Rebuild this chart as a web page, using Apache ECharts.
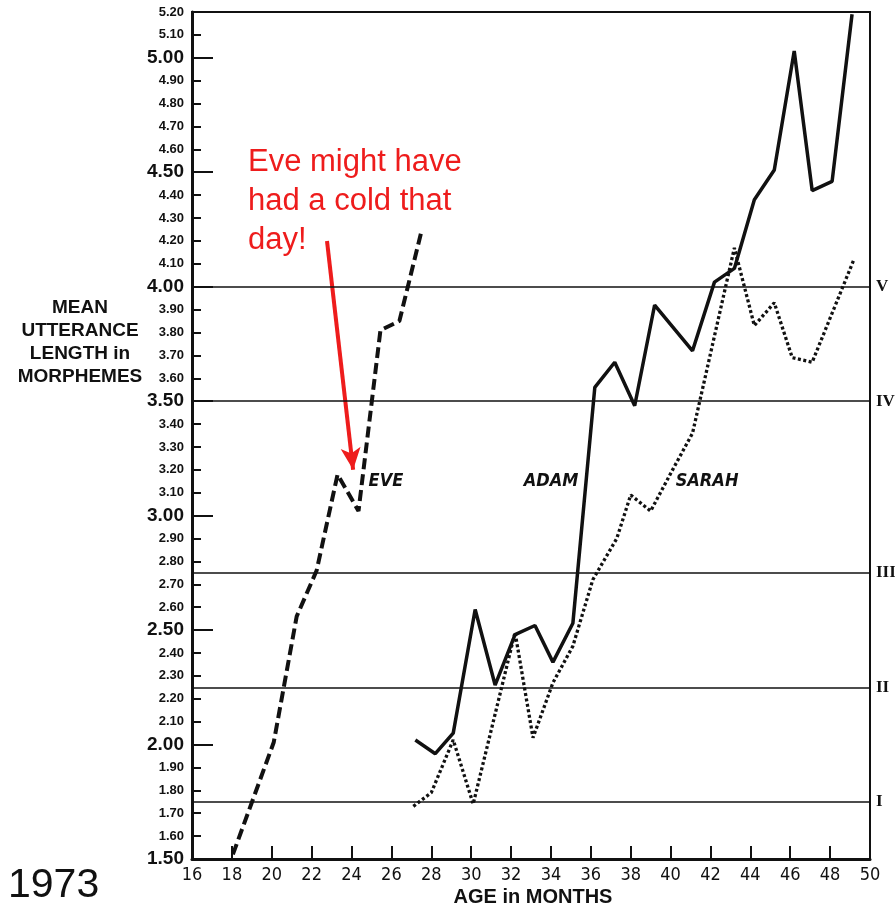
<!DOCTYPE html>
<html>
<head>
<meta charset="utf-8">
<script src="https://cdn.jsdelivr.net/npm/echarts@6/dist/echarts.min.js"></script>
<style>
  html, body { margin: 0; padding: 0; background: #ffffff; }
  #chart { width: 895px; height: 910px; }
</style>
</head>
<body>
<div id="chart"></div>
<script>
// Mean length of utterance (morphemes) by age (months)
const eveData = [
  [18.05, 1.52], [20.1, 2.01], [21.25, 2.56], [22.25, 2.76], [23.3, 3.18],
  [24.35, 3.02], [25.45, 3.81], [26.4, 3.85], [27.5, 4.24]
];
const adamData = [
  [27.2, 2.02], [28.2, 1.96], [29.1, 2.05], [30.2, 2.59], [31.2, 2.26],
  [32.2, 2.48], [33.2, 2.52], [34.1, 2.36], [35.1, 2.53], [36.2, 3.56],
  [37.2, 3.67], [38.2, 3.48], [39.2, 3.92], [41.1, 3.72], [42.2, 4.02],
  [43.2, 4.08], [44.2, 4.38], [45.2, 4.51], [46.2, 5.03], [47.1, 4.42],
  [48.1, 4.46], [49.1, 5.19]
];
const sarahData = [
  [27.1, 1.73], [28.0, 1.79], [29.1, 2.02], [30.1, 1.74], [32.2, 2.49],
  [33.1, 2.03], [34.1, 2.27], [35.1, 2.43], [36.1, 2.72], [37.3, 2.90],
  [38.0, 3.09], [39.0, 3.02], [40.1, 3.20], [41.1, 3.36], [43.2, 4.17],
  [44.2, 3.83], [45.2, 3.93], [46.1, 3.69], [47.1, 3.67], [49.2, 4.12]
];
// Stage boundaries (Brown's stages I–V)
const stageValues = [1.75, 2.25, 2.75, 3.50, 4.00];
const stageNames = ['I', 'II', 'III', 'IV', 'V'];
const childNames = ['EVE', 'ADAM', 'SARAH'];
const xTicks = { min: 16, max: 50, step: 2 };
const yTicks = { min: 1.5, max: 5.2, step: 0.1, majorStep: 0.5 };

const condensed = "'Liberation Sans Narrow', 'DejaVu Sans Condensed', 'Liberation Sans', Arial, sans-serif";
const sans = "'Liberation Sans', Arial, sans-serif";

const chart = echarts.init(document.getElementById('chart'), null, { renderer: 'canvas' });

const nameLabel = (text) => ({
  show: true, position: 'right', distance: 0, formatter: text,
  fontFamily: condensed, fontSize: 18, fontStyle: 'italic', fontWeight: 'bold', color: '#111'
});

const option = {
  backgroundColor: '#ffffff',
  animation: false,
  grid: {
    left: 192, right: 25, top: 12, bottom: 51,
    show: true, borderColor: '#111', borderWidth: 2, backgroundColor: 'transparent'
  },
  xAxis: {
    type: 'value', min: xTicks.min, max: xTicks.max, interval: xTicks.step,
    axisLine: { show: true, lineStyle: { color: '#111', width: 3 } },
    axisTick: { show: true, inside: true, length: 13, lineStyle: { color: '#111', width: 2 } },
    axisLabel: { color: '#111', fontFamily: condensed, fontSize: 18, margin: 7 },
    splitLine: { show: false }
  },
  yAxis: [
    {
      type: 'value', min: yTicks.min, max: yTicks.max, interval: yTicks.step,
      axisLine: { show: true, lineStyle: { color: '#111', width: 3 } },
      axisTick: { show: true, inside: true, length: 9, lineStyle: { color: '#111', width: 2 } },
      axisLabel: {
        margin: 8,
        formatter: (v) => {
          const major = Math.round(v * 100) % 50 === 0;
          return (major ? '{b|' : '{s|') + v.toFixed(2) + '}';
        },
        rich: {
          b: { fontFamily: sans, fontWeight: 'bold', fontSize: 19, color: '#111' },
          s: { fontFamily: sans, fontWeight: 'bold', fontSize: 13, color: '#111' }
        }
      },
      splitLine: { show: false }
    },
    {
      type: 'value', min: yTicks.min, max: yTicks.max, interval: yTicks.majorStep,
      position: 'left',
      axisLine: { show: false },
      axisTick: { show: true, inside: true, length: 21, lineStyle: { color: '#111', width: 2 } },
      axisLabel: { show: false },
      splitLine: { show: false }
    }
  ],
  series: [
    {
      name: childNames[0], type: 'line', data: eveData, symbol: 'none',
      lineStyle: { color: '#111', width: 4, type: [11, 5] },
      markPoint: {
        symbol: 'rect', symbolSize: 1, itemStyle: { color: 'rgba(0,0,0,0)' },
        data: [{ coord: [24.83, 3.15], label: nameLabel(childNames[0]) }]
      },
      markLine: {
        silent: true, animation: false,
        symbol: ['none', 'arrow'], symbolSize: [15, 22],
        lineStyle: { color: '#ee1c1c', width: 4, type: 'solid' },
        label: { show: false },
        data: [[{ coord: [22.77, 4.20] }, { coord: [24.08, 3.20] }]]
      },
      z: 3
    },
    {
      name: childNames[1], type: 'line', data: adamData, symbol: 'none',
      lineStyle: { color: '#111', width: 3.5, type: 'solid' },
      markPoint: {
        symbol: 'rect', symbolSize: 1, itemStyle: { color: 'rgba(0,0,0,0)' },
        data: [{ coord: [32.61, 3.15], label: nameLabel(childNames[1]) }]
      },
      markLine: {
        silent: true, animation: false, symbol: ['none', 'none'],
        lineStyle: { color: '#111', width: 1.6, type: 'solid' },
        label: {
          show: true, position: 'end', distance: 6,
          fontFamily: "'Liberation Serif', 'Times New Roman', serif",
          fontWeight: 'bold', fontSize: 17, color: '#111',
          formatter: (p) => stageNames[p.dataIndex]
        },
        data: stageValues.map((v) => ({ yAxis: v }))
      },
      z: 3
    },
    {
      name: childNames[2], type: 'line', data: sarahData, symbol: 'none',
      lineStyle: { color: '#111', width: 3.3, type: [3, 2.5], cap: 'butt' },
      markPoint: {
        symbol: 'rect', symbolSize: 1, itemStyle: { color: 'rgba(0,0,0,0)' },
        data: [{ coord: [40.23, 3.15], label: nameLabel(childNames[2]) }]
      },
      z: 3
    }
  ],
  graphic: [
    {
      type: 'text', z: 10,
      style: {
        x: 80, y: 296, text: 'MEAN\nUTTERANCE\nLENGTH in\nMORPHEMES',
        font: 'bold 19px ' + sans, fill: '#111', textAlign: 'center', lineHeight: 23
      }
    },
    {
      type: 'text', z: 10,
      style: {
        x: 533, y: 897, text: 'AGE in MONTHS',
        font: 'bold 20px ' + sans, fill: '#111', textAlign: 'center', textVerticalAlign: 'middle'
      }
    },
    {
      type: 'text', z: 10,
      style: {
        x: 8, y: 886, text: '1973',
        font: '41px ' + sans, fill: '#111', textAlign: 'left', textVerticalAlign: 'middle'
      }
    },
    {
      type: 'text', z: 10,
      style: {
        x: 248, y: 143, text: 'Eve might have\nhad a cold that\nday!',
        font: '31px ' + sans, fill: '#ee1c1c', textAlign: 'left', lineHeight: 39
      }
    }
  ]
};

chart.setOption(option);
</script>
</body>
</html>
